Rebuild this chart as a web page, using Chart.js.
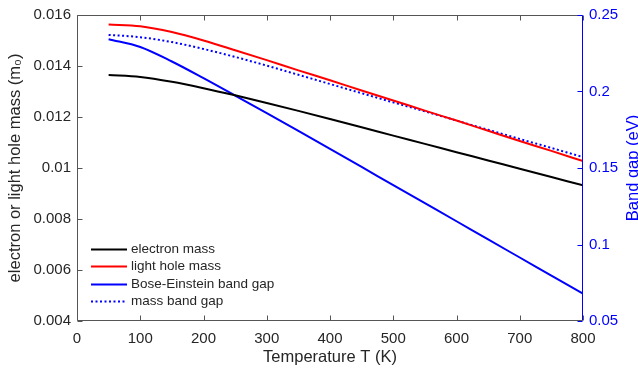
<!DOCTYPE html>
<html>
<head>
<meta charset="utf-8">
<script src="https://cdn.jsdelivr.net/npm/chart.js@4.4.0/dist/chart.umd.min.js"></script>
<style>
  html, body { margin: 0; padding: 0; background: #fff; }
  #wrap { width: 638px; height: 378px; }
</style>
</head>
<body>
<div id="wrap"><canvas id="c" width="638" height="378"></canvas></div>
<script>
// temperatures (K)
var temps = [50, 100, 150, 200, 250, 300, 350, 400, 450, 500, 550, 600, 650, 700, 750, 800]
// effective masses (m0), left axis
var electronMass  = [0.01365, 0.01357, 0.01338, 0.01313, 0.01285, 0.01255, 0.01224, 0.01192, 0.011595, 0.01127, 0.010945, 0.01062, 0.010295, 0.00997, 0.009645, 0.00932]
var lightHoleMass = [0.01563, 0.01556, 0.01533, 0.01500, 0.01462, 0.01423, 0.01383, 0.01344, 0.01304, 0.01265, 0.01225, 0.01186, 0.01146, 0.01106, 0.01067, 0.01027]
// band gaps (eV), right axis
var boseGap = [0.2342, 0.2291, 0.2196, 0.2087, 0.1973, 0.1858, 0.1742, 0.1625, 0.1507, 0.1388, 0.1270, 0.1152, 0.1033, 0.0915, 0.0797, 0.0679]
var massGap = [0.2370, 0.2355, 0.2323, 0.2278, 0.2226, 0.2169, 0.2109, 0.2049, 0.1989, 0.1929, 0.1870, 0.1810, 0.1750, 0.1690, 0.1631, 0.1571]

var xTicks    = [0, 100, 200, 300, 400, 500, 600, 700, 800]
var massTicks = [0.004, 0.006, 0.008, 0.01, 0.012, 0.014, 0.016]
var gapTicks  = [0.05, 0.1, 0.15, 0.2, 0.25]

var axisGray = '#555555'
var textGray = '#262626'
var blue = '#0000ff'
var FONT = 'Liberation Sans, Arial, Helvetica, sans-serif'

function pts(ys){
  return temps.map(function(t, i){ return {x: t, y: ys[i]} })
}
function fixTicks(list){
  return function(scale){ scale.ticks = list.map(function(v){ return {value: v} }) }
}
function fmt(v){ return String(+Number(v).toFixed(4)) }

// box, inward tick marks, right axis title
var frame = {
  id: 'frame',
  afterDraw: function(chart){
    var ctx = chart.ctx, a = chart.chartArea
    var sx = chart.scales.x, sy = chart.scales.y, sy1 = chart.scales.y1
    var L = Math.round(a.left) + 0.5, R = Math.round(a.right) - 0.5
    var T = Math.round(a.top) + 0.5, B = Math.round(a.bottom) - 0.5
    var tl = 5
    ctx.save()
    ctx.lineWidth = 1
    ctx.strokeStyle = axisGray
    ctx.beginPath()
    ctx.moveTo(R, T); ctx.lineTo(L, T); ctx.lineTo(L, B); ctx.lineTo(R, B)
    xTicks.forEach(function(v){
      var px = Math.round(sx.getPixelForValue(v)) + 0.5
      ctx.moveTo(px, B); ctx.lineTo(px, B - tl)
      ctx.moveTo(px, T); ctx.lineTo(px, T + tl)
    })
    massTicks.forEach(function(v){
      var py = Math.round(sy.getPixelForValue(v)) + 0.5
      ctx.moveTo(L, py); ctx.lineTo(L + tl, py)
    })
    ctx.stroke()
    ctx.strokeStyle = blue
    ctx.beginPath()
    ctx.moveTo(R, T); ctx.lineTo(R, B)
    gapTicks.forEach(function(v){
      var py = Math.round(sy1.getPixelForValue(v)) + 0.5
      ctx.moveTo(R, py); ctx.lineTo(R - tl, py)
    })
    ctx.stroke()
    // right title reads bottom to top
    ctx.translate(633, (a.top + a.bottom) / 2)
    ctx.rotate(-Math.PI / 2)
    ctx.fillStyle = blue
    ctx.font = '16.5px ' + FONT
    ctx.textAlign = 'center'
    ctx.textBaseline = 'middle'
    ctx.fillText('Band gap (eV)', 0, 0)
    ctx.restore()
  }
}

// legend inside the plot, lower left
var innerLegend = {
  id: 'innerLegend',
  afterDraw: function(chart){
    var ctx = chart.ctx
    var x0 = 91, x1 = 127, tx = 131, y = 248.5, step = 17.6
    ctx.save()
    ctx.font = '13.5px ' + FONT
    ctx.textBaseline = 'middle'
    ctx.fillStyle = textGray
    chart.data.datasets.forEach(function(ds, i){
      var yy = Math.round(y + i * step) + 0.5
      ctx.strokeStyle = ds.borderColor
      ctx.lineWidth = ds.borderWidth
      ctx.setLineDash(ds.borderDash || [])
      ctx.beginPath(); ctx.moveTo(x0, yy); ctx.lineTo(x1, yy); ctx.stroke()
      ctx.fillText(ds.label, tx, yy)
    })
    ctx.restore()
  }
}

var ctx = document.getElementById('c').getContext('2d')
var chart = new Chart(ctx, {
  type: 'line',
  data: {
    datasets: [
      {label: 'electron mass', data: pts(electronMass), yAxisID: 'y', borderColor: '#000000', borderWidth: 2},
      {label: 'light hole mass', data: pts(lightHoleMass), yAxisID: 'y', borderColor: '#ff0000', borderWidth: 2},
      {label: 'Bose-Einstein band gap', data: pts(boseGap), yAxisID: 'y1', borderColor: blue, borderWidth: 2},
      {label: 'mass band gap', data: pts(massGap), yAxisID: 'y1', borderColor: blue, borderWidth: 2, borderDash: [2, 2.5]}
    ]
  },
  options: {
    responsive: false,
    animation: false,
    devicePixelRatio: 1,
    layout: {padding: {top: 5, left: 0, right: 0, bottom: 0}},
    elements: {point: {radius: 0}, line: {cubicInterpolationMode: 'monotone', fill: false}},
    plugins: {legend: {display: false}, tooltip: {enabled: false}},
    scales: {
      x: {
        type: 'linear', min: 0, max: 800,
        afterBuildTicks: fixTicks(xTicks),
        afterFit: function(s){ s.height = 57 },
        grid: {display: false, drawTicks: false},
        border: {display: false},
        ticks: {padding: 9, color: textGray, font: {size: 15, family: FONT}, maxRotation: 0, callback: fmt},
        title: {display: true, text: 'Temperature T (K)', color: textGray, font: {size: 16.5, family: FONT}, padding: {top: 0, bottom: 11}}
      },
      y: {
        position: 'left', min: 0.004, max: 0.016,
        afterBuildTicks: fixTicks(massTicks),
        afterFit: function(s){ s.width = 77 },
        grid: {display: false, drawTicks: false},
        border: {display: false},
        ticks: {padding: 6, color: textGray, font: {size: 15, family: FONT}, callback: fmt},
        title: {display: true, text: 'electron or light hole mass (m\u2080)', color: textGray, font: {size: 16.5, family: FONT}, padding: {top: 6, bottom: 0}}
      },
      y1: {
        position: 'right', min: 0.05, max: 0.25,
        afterBuildTicks: fixTicks(gapTicks),
        afterFit: function(s){ s.width = 55 },
        grid: {display: false, drawTicks: false},
        border: {display: false},
        ticks: {padding: 6, color: blue, font: {size: 15, family: FONT}, callback: fmt}
      }
    }
  },
  plugins: [frame, innerLegend]
})
</script>
</body>
</html>
